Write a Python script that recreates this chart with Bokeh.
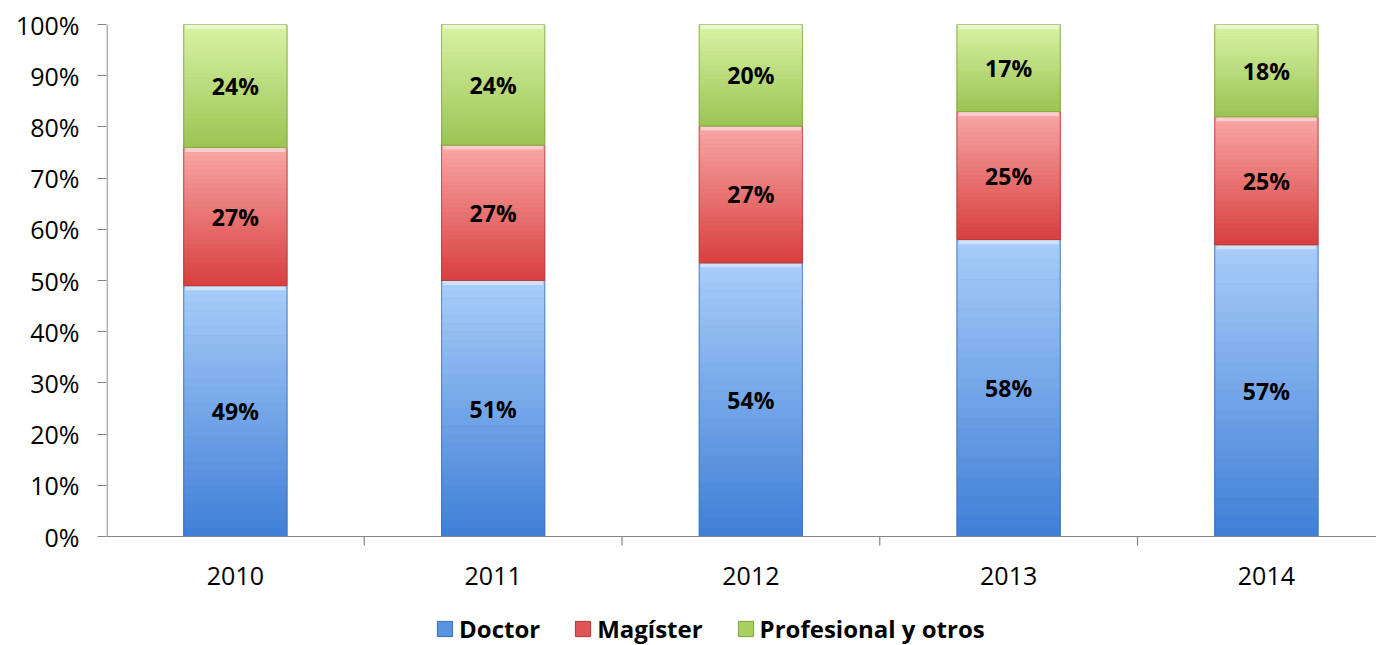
from bokeh.plotting import figure
from bokeh.models import (ColumnDataSource, Range1d, FixedTicker, Legend, LegendItem,
                          LabelSet, CustomJSTickFormatter)
from bokeh.embed import file_html
from bokeh.resources import INLINE
from bokeh.core.properties import value

# ---- data ----
years = ["2010", "2011", "2012", "2013", "2014"]
series_names = ["Doctor", "Magíster", "Profesional y otros"]
doctor = [49, 51, 54, 58, 57]
magister = [27, 27, 27, 25, 25]
profesional = [24, 24, 20, 17, 18]
y_ticks = [0, 10, 20, 30, 40, 50, 60, 70, 80, 90, 100]

# ---- styles ----
top_colors = ["#a9cdf9", "#f9a8a8", "#d9f3a6"]
bot_colors = ["#3f7fd7", "#d83f3f", "#9bc453"]
mid_colors = ["#5a94e0", "#e05555", "#a8cf60"]
edge_colors = ["#3a6fb8", "#b03838", "#7fa23e"]
FONT = "Open Sans"
axis_col = "#868686"

def hex2rgb(h):
    h = h.lstrip("#")
    return tuple(int(h[i:i + 2], 16) for i in (0, 2, 4))

def mix(c1, c2, t):
    a, b = hex2rgb(c1), hex2rgb(c2)
    return "#%02x%02x%02x" % tuple(int(round(a[i] + (b[i] - a[i]) * t)) for i in range(3))

values = [doctor, magister, profesional]
totals = [sum(v[i] for v in values) for i in range(len(years))]
xs = list(range(len(years)))

PX_Y = 512 / 100.0          # pixels per percent
PX_X = 257.75               # pixels per category
X0, X1 = -0.5, -0.5 + 1270 / PX_X
Y0 = -109 / PX_Y

p = figure(frame_width=1270, frame_height=621, x_range=Range1d(X0, X1), y_range=Range1d(Y0, 100),
           output_backend="svg", toolbar_location=None, min_border_left=106, min_border_right=0,
           min_border_top=24, min_border_bottom=0, background_fill_color="white",
           border_fill_color="white", outline_line_color=None)
p.xgrid.visible = False
p.ygrid.visible = False
p.xaxis.visible = False

W = 0.4
N = 30
base = [0.0] * len(years)
legend_items = []
label_x, label_y, label_t = [], [], []
for s, vals in enumerate(values):
    bottoms = [base[i] for i in range(len(years))]
    tops = [base[i] + vals[i] * 100.0 / totals[i] for i in range(len(years))]
    src = ColumnDataSource(dict(x=xs, bottom=bottoms, top=tops))
    r = p.vbar(x="x", bottom="bottom", top="top", width=W, source=src,
               fill_color=mid_colors[s], line_color=edge_colors[s], line_width=1)
    legend_items.append(LegendItem(label=series_names[s], renderers=[r]))
    sx, sb, st, sc = [], [], [], []
    for i in range(len(years)):
        h = tops[i] - bottoms[i]
        for k in range(N):
            b = bottoms[i] + h * k / N
            t = bottoms[i] + h * (k + 1) / N
            sx.append(xs[i]); sb.append(b); st.append(t)
            sc.append(mix(bot_colors[s], top_colors[s], (k + 0.5) / N))
    gsrc = ColumnDataSource(dict(x=sx, bottom=sb, top=st, c=sc))
    p.vbar(x="x", bottom="bottom", top="top", width=W, source=gsrc,
           fill_color="c", line_color="c", line_width=0.6)
    p.vbar(x=xs, bottom=[t - 0.9 for t in tops], top=tops, width=W * 0.97,
           fill_color="white", fill_alpha=0.45, line_color=None)
    p.vbar(x=xs, bottom=bottoms, top=tops, width=W, fill_color=None,
           line_color=edge_colors[s], line_alpha=0.6, line_width=1)
    for i in range(len(years)):
        label_x.append(xs[i])
        label_y.append((bottoms[i] + tops[i]) / 2)
        label_t.append("%d%%" % vals[i])
    base = tops

lsrc = ColumnDataSource(dict(x=label_x, y=label_y, t=label_t))
p.add_layout(LabelSet(x="x", y="y", text="t", source=lsrc, text_align="center",
                      text_baseline="middle", text_font=value(FONT), text_font_style="bold",
                      text_font_size="23px", text_color="black"))

# y axis (labels and ticks by Bokeh; axis line drawn from 0 to 100 only)
ya = p.yaxis[0]
ya.ticker = FixedTicker(ticks=y_ticks, minor_ticks=[])
ya.formatter = CustomJSTickFormatter(code="return tick.toFixed(0) + '%';")
ya.axis_line_color = None
ya.major_tick_line_color = axis_col
ya.major_tick_out = 9
ya.major_tick_in = 0
ya.minor_tick_line_color = None
ya.major_label_standoff = 18
ya.major_label_text_font = FONT
ya.major_label_text_font_size = "25px"
ya.major_label_text_color = "black"
dx = 0.6 / PX_X
p.segment(x0=[X0 + dx], y0=[0], x1=[X0 + dx], y1=[100], line_color=axis_col, line_width=1.2)

# category axis: line, boundary ticks and year labels
p.segment(x0=[X0], y0=[0], x1=[X1], y1=[0], line_color=axis_col, line_width=1.2)
bounds = [i - 0.5 for i in range(1, len(years) + 1)]
p.segment(x0=bounds, y0=[0] * len(bounds), x1=bounds, y1=[-9 / PX_Y] * len(bounds),
          line_color=axis_col, line_width=1.2)
p.text(x=xs, y=[-39 / PX_Y] * len(xs), text=years, text_align="center", text_baseline="middle",
       text_font=value(FONT), text_font_size="25px", text_color="black")

legend = Legend(items=legend_items, orientation="horizontal", location=(329, 0),
                label_text_font=FONT, label_text_font_style="bold", label_text_font_size="24px",
                label_text_color="black", glyph_width=19, glyph_height=19, label_standoff=5,
                spacing=33, padding=0, margin=0, border_line_color=None,
                background_fill_alpha=0, label_height=20)
p.add_layout(legend, "center")

open("out.html", "w").write(file_html(p, INLINE))
